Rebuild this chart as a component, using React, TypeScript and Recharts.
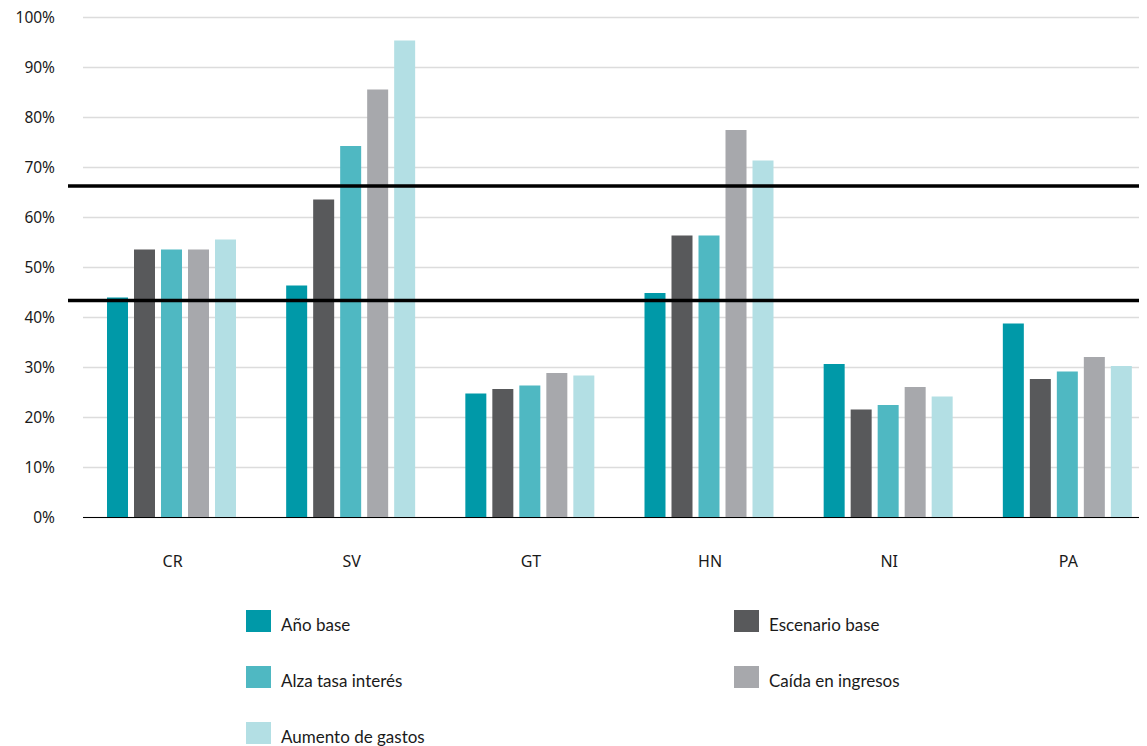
import React from 'react';
import { BarChart, Bar, XAxis, YAxis, CartesianGrid, ReferenceLine, Legend } from 'recharts';

const categories = ['CR', 'SV', 'GT', 'HN', 'NI', 'PA'];
const anoBase = [44.0, 46.4, 24.8, 44.9, 30.7, 38.8];
const escenarioBase = [53.6, 63.6, 25.7, 56.4, 21.6, 27.7];
const alzaTasa = [53.6, 74.3, 26.4, 56.4, 22.5, 29.2];
const caidaIngresos = [53.6, 85.6, 28.9, 77.5, 26.1, 32.1];
const aumentoGastos = [55.6, 95.4, 28.4, 71.4, 24.2, 30.3];
const yTicks = [0, 10, 20, 30, 40, 50, 60, 70, 80, 90, 100];
const refLines = [66.3, 43.4];

const seriesNames = ['Año base', 'Escenario base', 'Alza tasa interés', 'Caída en ingresos', 'Aumento de gastos'];
const seriesKeys = ['anoBase', 'escenarioBase', 'alzaTasa', 'caidaIngresos', 'aumentoGastos'];
const seriesColors = ['#0099A8', '#58595B', '#4FB8C2', '#A7A8AC', '#B3DFE4'];

const data = categories.map((c, i) => ({
  name: c,
  anoBase: anoBase[i],
  escenarioBase: escenarioBase[i],
  alzaTasa: alzaTasa[i],
  caidaIngresos: caidaIngresos[i],
  aumentoGastos: aumentoGastos[i],
}));

const legendPos = [
  { x: 238, y: 610 },
  { x: 726, y: 610 },
  { x: 238, y: 666 },
  { x: 726, y: 666 },
  { x: 238, y: 722 },
];

const LegendContent = (props: any) => {
  const payload = props.payload || [];
  return (
    <div style={{ position: 'relative', height: 0, width: 0 }}>
      {payload.map((entry: any, i: number) => {
        const idx = seriesNames.indexOf(entry.value);
        const p = legendPos[idx >= 0 ? idx : i];
        return (
          <div
            key={entry.value}
            style={{
              position: 'absolute',
              left: p.x,
              top: p.y,
              display: 'flex',
              alignItems: 'center',
              whiteSpace: 'nowrap',
            }}
          >
            <div style={{ width: 25, height: 22, background: entry.color }} />
            <span
              style={{
                marginLeft: 10,
                fontFamily: 'Lato, sans-serif',
                fontSize: 17,
                color: '#1a1a1a',
                position: 'relative',
                top: 3,
              }}
            >
              {entry.value}
            </span>
          </div>
        );
      })}
    </div>
  );
};

const refShape = (props: any) => (
  <line x1={props.x1 - 15} y1={props.y1} x2={props.x2 + 20} y2={props.y2} stroke="#000" strokeWidth={3.5} />
);

export default function App() {
  return (
    <div style={{ width: 1139, height: 746, marginTop: -8, overflow: 'hidden', position: 'relative' }}>
      <BarChart
        width={1160}
        height={746}
        data={data}
        margin={{ top: 17.5, right: 10, bottom: 0, left: 0 }}
        barGap={6}
        barCategoryGap={24}
      >
        <CartesianGrid vertical={false} stroke="#dcdcdc" strokeWidth={1.5} />
        <XAxis
          dataKey="name"
          height={228.5}
          axisLine={{ stroke: '#000', strokeWidth: 1.2 }}
          tickLine={false}
          tickSize={0}
          tickMargin={38}
          tick={{ fill: '#1a1a1a', fontSize: 16, fontFamily: '"Noto Sans", sans-serif' }}
          interval={0}
        />
        <YAxis
          width={75}
          domain={[0, 100]}
          ticks={yTicks}
          interval={0}
          axisLine={false}
          tickLine={false}
          tickSize={0}
          tickMargin={28}
          tickFormatter={(v: number) => `${v}%`}
          tick={{ fill: '#1a1a1a', fontSize: 15.5, fontFamily: '"Noto Sans", sans-serif' }}
        />
        {seriesKeys.map((k, i) => (
          <Bar key={k} dataKey={k} name={seriesNames[i]} fill={seriesColors[i]} isAnimationActive={false} />
        ))}
        {refLines.map((v) => (
          <ReferenceLine key={v} y={v} shape={refShape} />
        ))}
        <Legend
          content={LegendContent}
          wrapperStyle={{ left: 0, top: 0, width: 0, height: 0 }}
        />
      </BarChart>
    </div>
  );
}
